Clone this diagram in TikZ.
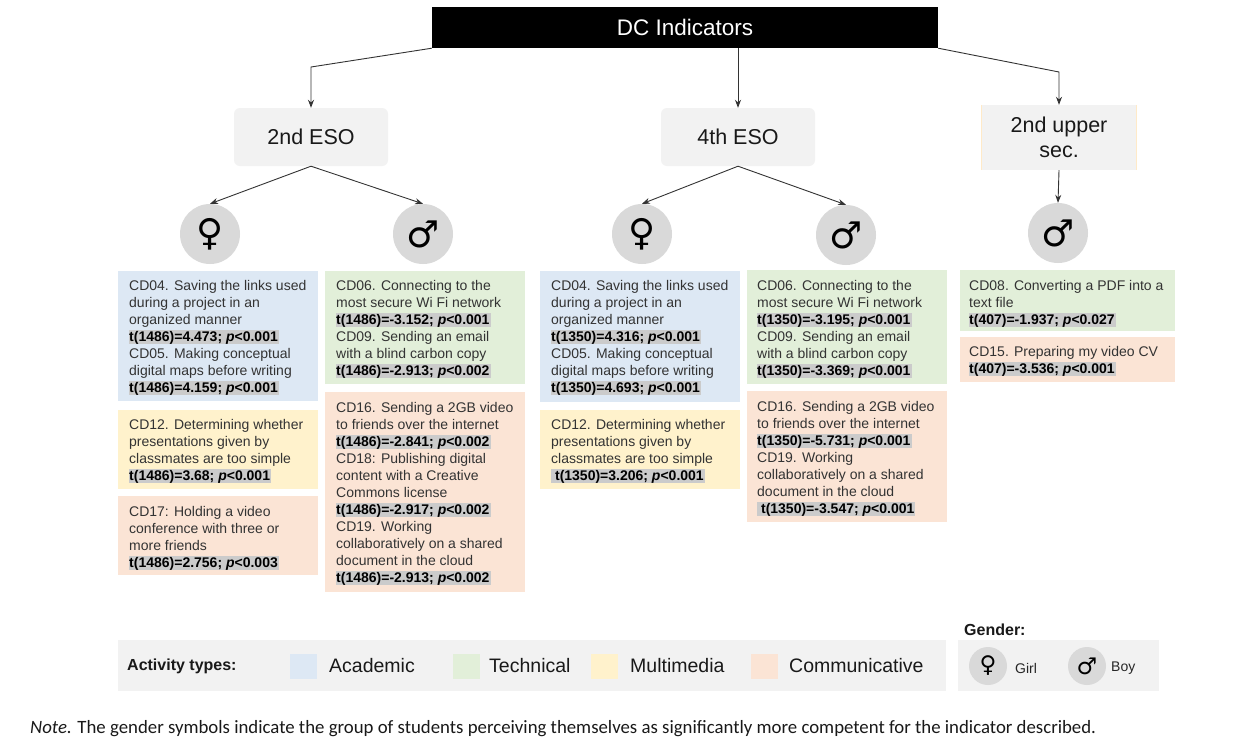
\documentclass[tikz,border=0pt]{standalone}
\usepackage{fontspec}
\setmainfont{Liberation Sans}
\newfontfamily\symfont{DejaVu Sans Bold}
\newfontfamily\notefont{Carlito}
\usetikzlibrary{arrows.meta}
\definecolor{cblue}{HTML}{DDE8F4}
\definecolor{cgreen}{HTML}{E2EFD9}
\definecolor{cyellow}{HTML}{FFF2CC}
\definecolor{corange}{HTML}{FBE4D5}
\definecolor{hdrgray}{HTML}{F2F2F2}
\definecolor{circgray}{HTML}{D9D9D9}
\definecolor{hlgray}{HTML}{CBCBCB}
\definecolor{txtc}{HTML}{333333}
\newcommand\lstr{\rule[-5pt]{0pt}{17pt}}
\newcommand\hlt[1]{{\setlength{\fboxsep}{0pt}\colorbox{hlgray}{\rule[-3pt]{0pt}{14.5pt}\color{black}\textbf{#1}\hspace{1pt}}}}
\newcommand\pp{\textit{p}}
\tikzset{
  txt/.style={anchor=north west, inner sep=0pt, align=left, font=\fontsize{14}{17}\selectfont, text=txtc},
  hdr/.style={fill=hdrgray, rounded corners=6pt, minimum width=154pt, minimum height=58pt, inner sep=0pt, font=\fontsize{21.5}{25}\selectfont, text=black!90},
  gcirc/.style={circle, fill=circgray, minimum size=60pt, inner sep=0pt, font=\symfont\fontsize{37}{37}\selectfont},
  lcirc/.style={circle, fill=circgray, minimum size=38pt, inner sep=0pt, font=\symfont\fontsize{23}{23}\selectfont},
  arr/.style={-{Stealth[length=8pt,width=6pt]}, line width=0.9pt, draw=black!80},
  swatch/.style={minimum width=27pt, minimum height=25pt, inner sep=0pt},
  leglab/.style={anchor=west, inner sep=0pt, font=\fontsize{19.5}{22}\selectfont, text=black!90},
}
\begin{document}
\begin{tikzpicture}[x=1pt,y=-1pt]
\useasboundingbox[fill=white] (0,0) rectangle (1249,748);

% top
\node[fill=black, minimum width=506pt, minimum height=41pt, inner sep=0pt, text=white, font=\fontsize{22.5}{26}\selectfont] (top) at (685,27.5) {DC Indicators};

% headers
\node[hdr] (eso2) at (311,137) {2nd ESO};
\node[hdr] (eso4) at (738,137) {4th ESO};
\node[hdr, rounded corners=0pt, minimum height=65pt, align=center] (upsec) at (1059,137.5) {2nd upper\\sec.};
\draw[cyellow!80!orange!60, line width=0.8pt] (upsec.north west) -- (upsec.south west);
\draw[cyellow!80!orange!60, line width=0.8pt] (upsec.north east) -- (upsec.south east);

% circles
\node[gcirc] (f2) at (210,234) {♀};
\node[gcirc] (m2) at (423,234) {♂};
\node[gcirc] (f4) at (642,234) {♀};
\node[gcirc] (m4) at (846,235) {♂};
\node[gcirc] (mu) at (1058,233) {♂};

% connectors
\coordinate (b1) at (311,67);
\coordinate (b3) at (1059,72);
\draw[arr] (top.south west) -- (b1) -- (eso2.north);
\draw[arr] (top.south -| eso4.north) -- (eso4.north);
\draw[arr] (top.south east) -- (b3) -- (upsec.north);
\draw[arr] (eso2.south) -- (f2.north);
\draw[arr] (eso2.south) -- (m2.north);
\draw[arr] (eso4.south) -- (f4.north);
\draw[arr] (eso4.south) -- (m4.north);
\draw[arr] (upsec.south) -- (mu.north);

% boxes 2nd ESO girls
\fill[cblue] (118,271) rectangle (318,401);
\node[txt] (ta) at (129,278) {\lstr CD04. Saving the links used\\during a project in an\\organized manner\\\hlt{t(1486)=4.473; \pp<0.001}\\CD05. Making conceptual\\digital maps before writing\\\hlt{t(1486)=4.159; \pp<0.001}};
\fill[cyellow] (118,410) rectangle (318,489);
\node[txt] (tb) at (129,417) {\lstr CD12. Determining whether\\presentations given by\\classmates are too simple\\\hlt{t(1486)=3.68; \pp<0.001}};
\fill[corange] (118,496) rectangle (318,575);
\node[txt] (tc) at (129,504) {\lstr CD17: Holding a video\\conference with three or\\more friends\\\hlt{t(1486)=2.756; \pp<0.003}};

% boxes 2nd ESO boys
\fill[cgreen] (325,271) rectangle (525,384);
\node[txt] (td) at (336,278) {\lstr CD06. Connecting to the\\most secure Wi Fi network\\\hlt{t(1486)=-3.152; \pp<0.001}\\CD09. Sending an email\\with a blind carbon copy\\\hlt{t(1486)=-2.913; \pp<0.002}};
\fill[corange] (325,392) rectangle (525,592);
\node[txt] (te) at (336,400) {\lstr CD16. Sending a 2GB video\\to friends over the internet\\\hlt{t(1486)=-2.841; \pp<0.002}\\CD18: Publishing digital\\content with a Creative\\Commons license\\\hlt{t(1486)=-2.917; \pp<0.002}\\CD19. Working\\collaboratively on a shared\\document in the cloud\\\hlt{t(1486)=-2.913; \pp<0.002}};

% boxes 4th ESO girls
\fill[cblue] (540,271) rectangle (740,402);
\node[txt] (tf) at (551,278) {\lstr CD04. Saving the links used\\during a project in an\\organized manner\\\hlt{t(1350)=4.316; \pp<0.001}\\CD05. Making conceptual\\digital maps before writing\\\hlt{t(1350)=4.693; \pp<0.001}};
\fill[cyellow] (540,410) rectangle (740,489);
\node[txt] (tg) at (551,417) {\lstr CD12. Determining whether\\presentations given by\\classmates are too simple\\\hlt{\ t(1350)=3.206; \pp<0.001}};

% boxes 4th ESO boys
\fill[cgreen] (747,270) rectangle (947,384);
\node[txt] (th) at (757,278) {\lstr CD06. Connecting to the\\most secure Wi Fi network\\\hlt{t(1350)=-3.195; \pp<0.001}\\CD09. Sending an email\\with a blind carbon copy\\\hlt{t(1350)=-3.369; \pp<0.001}};
\fill[corange] (747,391) rectangle (947,522);
\node[txt] (ti) at (757,399) {\lstr CD16. Sending a 2GB video\\to friends over the internet\\\hlt{t(1350)=-5.731; \pp<0.001}\\CD19. Working\\collaboratively on a shared\\document in the cloud\\\hlt{\ t(1350)=-3.547; \pp<0.001}};

% boxes upper sec boys
\fill[cgreen] (960,270) rectangle (1175,331);
\node[txt] (tj) at (969,278) {\lstr CD08. Converting a PDF into a\\text file\\\hlt{t(407)=-1.937; \pp<0.027}};
\fill[corange] (960,337) rectangle (1175,382);
\node[txt] (tk) at (969,344) {\lstr CD15. Preparing my video CV\\\hlt{t(407)=-3.536; \pp<0.001}};

% legend
\node[fill=hdrgray, minimum width=828pt, minimum height=51pt, anchor=north west, inner sep=0pt] (legend) at (118,640) {};
\node[anchor=west, inner sep=0pt, font=\bfseries\fontsize{16}{19}\selectfont, text=black!90] (acttitle) at (127,666) {Activity types:};
\node[swatch, fill=cblue] (sw1) at (303,666.5) {};
\node[leglab] (l1) at (329,666) {Academic};
\node[swatch, fill=cgreen] (sw2) at (466,666.5) {};
\node[leglab] (l2) at (489,666) {Technical};
\node[swatch, fill=cyellow] (sw3) at (604,666.5) {};
\node[leglab] (l3) at (630,666) {Multimedia};
\node[swatch, fill=corange] (sw4) at (764,666.5) {};
\node[leglab] (l4) at (789,666) {Communicative};

\node[fill=hdrgray, minimum width=201pt, minimum height=51pt, anchor=north west, inner sep=0pt] (glegend) at (958,640) {};
\node[anchor=west, inner sep=0pt, font=\bfseries\fontsize{16}{19}\selectfont, text=black!90] (gtitle) at (964,630) {Gender:};
\node[lcirc] (lg) at (988,666) {♀};
\node[anchor=west, inner sep=0pt, font=\fontsize{14}{17}\selectfont, text=black!85] (lgt) at (1015,668) {Girl};
\node[lcirc] (lb) at (1087,666) {♂};
\node[anchor=west, inner sep=0pt, font=\fontsize{14}{17}\selectfont, text=black!85] (lbt) at (1111,668) {Boy};

% note
\node[anchor=base west, inner sep=0pt, font=\notefont\fontsize{18.8}{22}\selectfont, text=black!90] (note) at (30,733) {\textit{Note.} The gender symbols indicate the group of students perceiving themselves as significantly more competent for the indicator described.};
\end{tikzpicture}
\end{document}
